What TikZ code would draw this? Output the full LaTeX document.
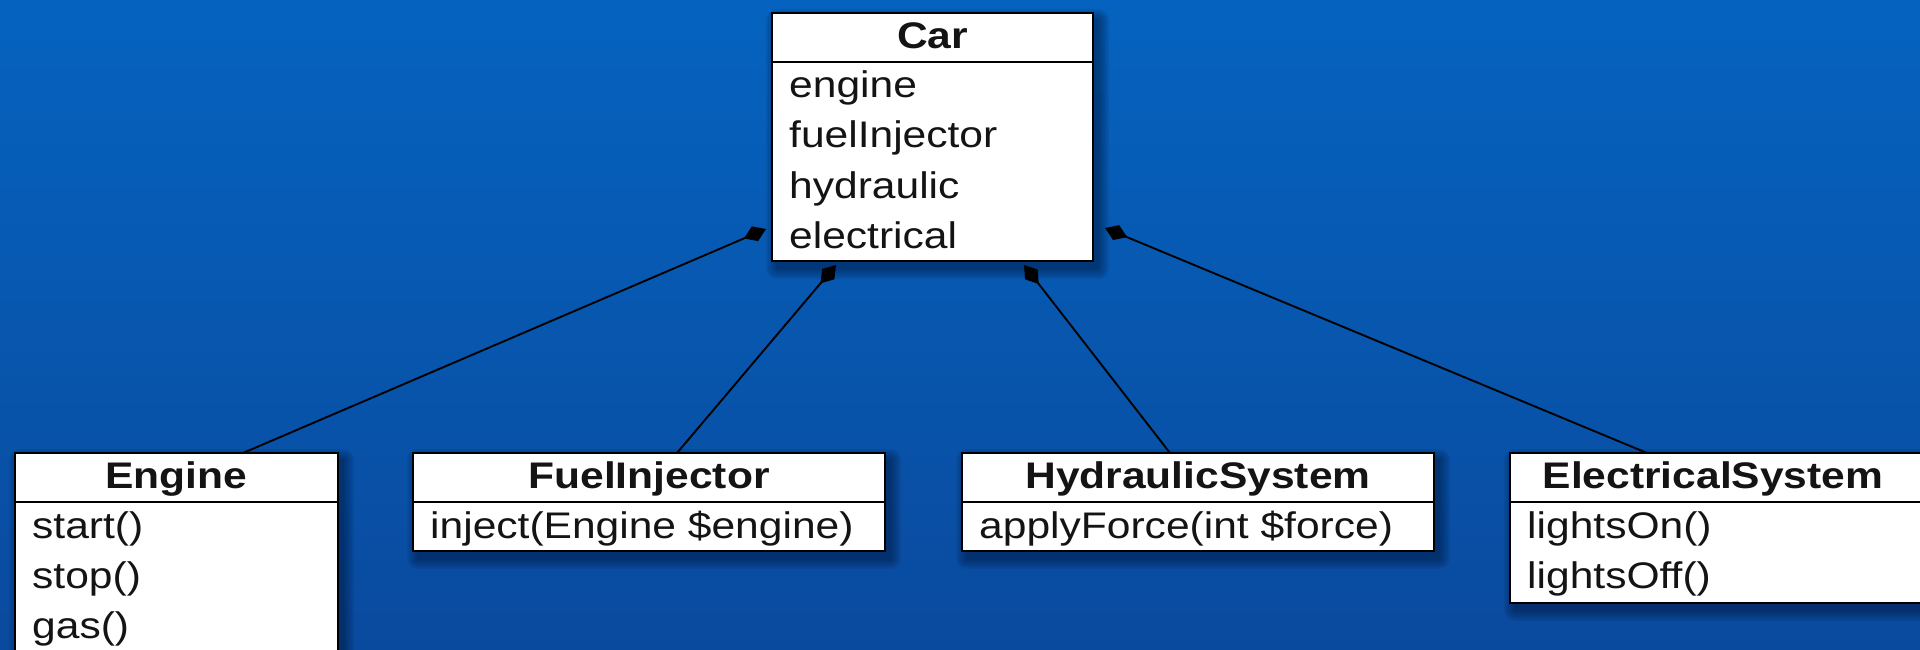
\documentclass[tikz,border=0pt]{standalone}
\usepackage{fontspec}
\setmainfont{Liberation Sans}[FakeStretch=1.15]
\usetikzlibrary{arrows.meta,calc}

\definecolor{bgtop}{RGB}{5,99,191}
\definecolor{bgbot}{RGB}{10,74,158}
\definecolor{ink}{RGB}{20,20,20}
\definecolor{shadowcol}{RGB}{0,15,45}

\pgfdeclarelayer{back}
\pgfdeclarelayer{mid}
\pgfsetlayers{back,mid,main}

\tikzset{
  classbox/.style={draw=black, line width=2.4pt, fill=white, outer sep=0pt,
    inner sep=0pt, anchor=north west},
  divider/.style={draw=black, line width=2pt},
  title/.style={anchor=base, inner sep=0pt, text=ink,
    font=\fontsize{37}{50}\selectfont\bfseries},
  member/.style={anchor=base west, inner sep=0pt, text=ink,
    font=\fontsize{37}{50}\selectfont},
  comp/.style={draw=black, line width=1.9pt,
    -{Diamond[length=24pt,width=16pt]}},
  softshadow/.style={fill=shadowcol, fill opacity=0.09, draw=none}
}

% soft drop shadow under a box: stacked translucent rectangles
\newcommand{\boxshadow}[1]{%
  \foreach \r in {1,3,...,11}{%
    \fill[softshadow, rounded corners=\r pt]
      ($(#1.north west)+(5-\r,7-\r)$) rectangle ($(#1.south east)+(5+\r,7+\r)$);
  }%
}

\begin{document}
\begin{tikzpicture}[x=1pt,y=-1pt]
\useasboundingbox (0,0) rectangle (1920,650);

\begin{pgfonlayer}{back}
  \shade[top color=bgtop, bottom color=bgbot] (0,0) rectangle (1920,650);
\end{pgfonlayer}

% class boxes
\node[classbox, minimum width=321pt, minimum height=248pt] (car) at (772,13) {};
\node[classbox, minimum width=323pt, minimum height=230pt] (engine) at (15,453) {};
\node[classbox, minimum width=472pt, minimum height=98pt] (fuel) at (413,453) {};
\node[classbox, minimum width=472pt, minimum height=98pt] (hydr) at (962,453) {};
\node[classbox, minimum width=412pt, minimum height=150pt] (elec) at (1510,453) {};

% header separators
\foreach \b in {car,engine,fuel,hydr,elec}
  \draw[divider] ([yshift=-49pt]\b.north west) -- ([yshift=-49pt]\b.north east);

% Car
\node[title] (car-t) at ([yshift=-35.5pt]car.north) {Car};
\node[member] (car-1) at ([xshift=17pt,yshift=-85pt]car.north west) {engine};
\node[member] (car-2) at ([xshift=17pt,yshift=-135pt]car.north west) {fuelInjector};
\node[member] (car-3) at ([xshift=17pt,yshift=-185pt]car.north west) {hydraulic};
\node[member] (car-4) at ([xshift=17pt,yshift=-235pt]car.north west) {electrical};

% Engine
\node[title] (engine-t) at ([yshift=-35.5pt]engine.north) {Engine};
\node[member] (engine-1) at ([xshift=17pt,yshift=-85pt]engine.north west) {start()};
\node[member] (engine-2) at ([xshift=17pt,yshift=-135pt]engine.north west) {stop()};
\node[member] (engine-3) at ([xshift=17pt,yshift=-185pt]engine.north west) {gas()};

% FuelInjector
\node[title] (fuel-t) at ([yshift=-35.5pt]fuel.north) {FuelInjector};
\node[member] (fuel-1) at ([xshift=17pt,yshift=-85pt]fuel.north west) {inject(Engine \$engine)};

% HydraulicSystem
\node[title] (hydr-t) at ([yshift=-35.5pt]hydr.north) {HydraulicSystem};
\node[member] (hydr-1) at ([xshift=17pt,yshift=-85pt]hydr.north west) {applyForce(int \$force)};

% ElectricalSystem
\node[title] (elec-t) at ([xshift=203pt,yshift=-35.5pt]elec.north west) {ElectricalSystem};
\node[member] (elec-1) at ([xshift=17pt,yshift=-85pt]elec.north west) {lightsOn()};
\node[member] (elec-2) at ([xshift=17pt,yshift=-135pt]elec.north west) {lightsOff()};

% shadows and composition links, beneath the boxes
\begin{pgfonlayer}{mid}
  \foreach \b in {car,engine,fuel,hydr,elec} {\boxshadow{\b}}
  \draw[comp] ([xshift=228pt]engine.north west) -- ($(car.south west)+(-6,-32)$);
  \draw[comp] ([xshift=264pt]fuel.north west) -- ($(car.south west)+(64,4)$);
  \draw[comp] ([xshift=208pt]hydr.north west) -- ($(car.south east)+(-69,4)$);
  \draw[comp] ([xshift=137pt]elec.north west) -- ($(car.south east)+(12,-33)$);
\end{pgfonlayer}
\end{tikzpicture}
\end{document}
